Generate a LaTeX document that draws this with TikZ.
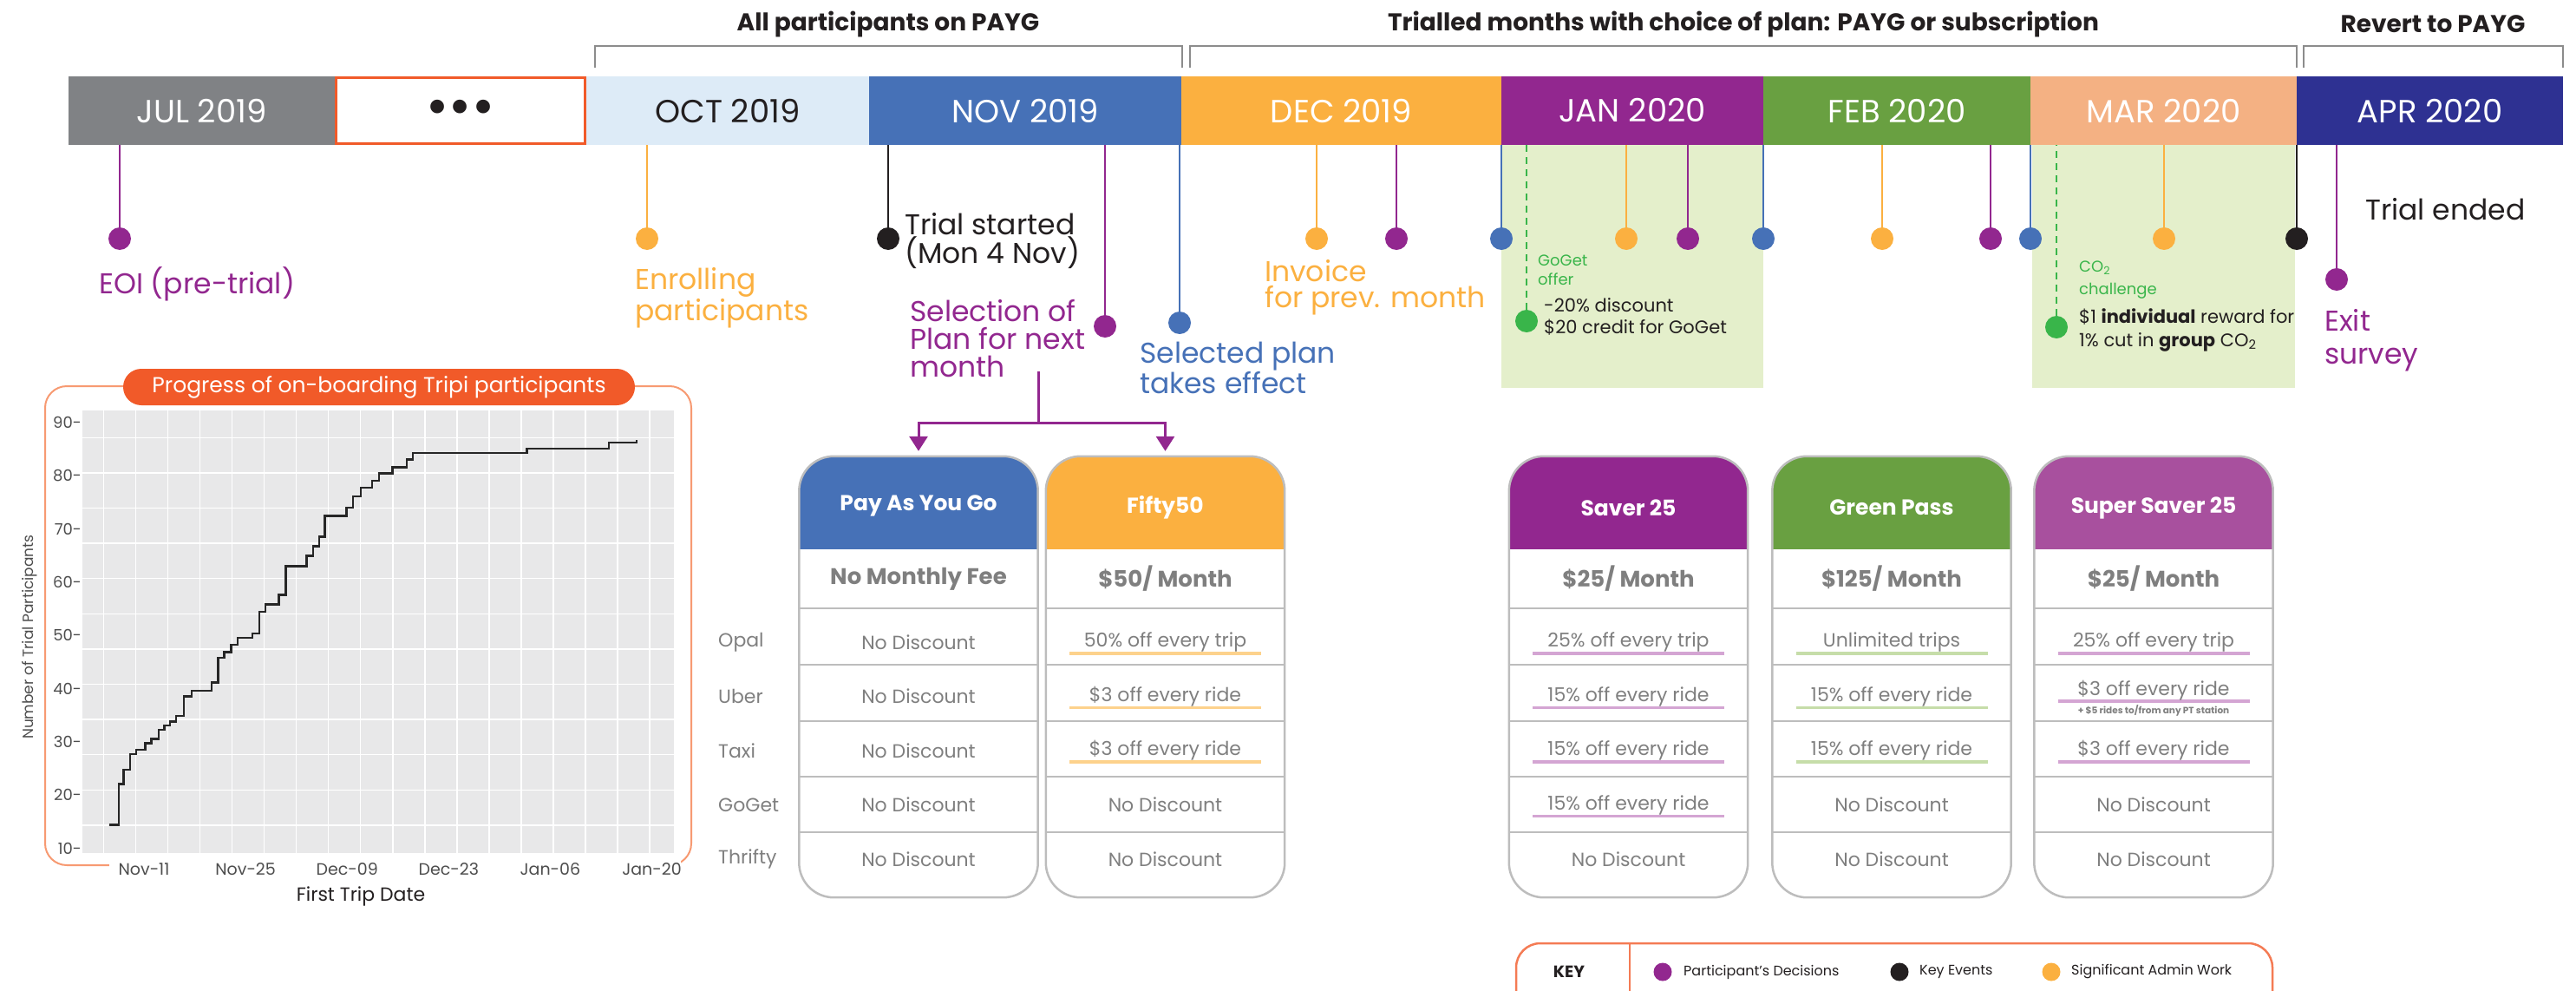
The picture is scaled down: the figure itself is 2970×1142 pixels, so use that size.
\documentclass[tikz,border=0pt]{standalone}
\usepackage{fontspec}
\setmainfont{Poppins}
\usepackage{tikz}
\usetikzlibrary{arrows.meta}
\usetikzlibrary{positioning}

\definecolor{cJul}{HTML}{808285}
\definecolor{cOrange}{HTML}{F15A29}
\definecolor{cOct}{HTML}{DDEBF7}
\definecolor{cNov}{HTML}{4671B7}
\definecolor{cDec}{HTML}{FBB040}
\definecolor{cJan}{HTML}{92278F}
\definecolor{cFeb}{HTML}{69A041}
\definecolor{cMar}{HTML}{F4B183}
\definecolor{cApr}{HTML}{2E3192}
\definecolor{cSuper}{HTML}{A8509E}
\definecolor{cOffer}{HTML}{E4EFCB}
\definecolor{cGreen}{HTML}{39B54A}
\definecolor{cInk}{HTML}{231F20}
\definecolor{cGrey}{HTML}{7F7F7F}
\definecolor{cRule}{HTML}{BDBDBD}
\definecolor{cPanel}{HTML}{E8E8E9}
\definecolor{cBracket}{HTML}{8C8C8C}
\definecolor{cDecPale}{HTML}{FDD28C}
\definecolor{cJanPale}{HTML}{D4A5D3}
\definecolor{cFebPale}{HTML}{C6DDA9}
\definecolor{cFrame}{HTML}{F79A72}
\definecolor{cAxis}{HTML}{4D4D4D}

\newcommand\fsize[2]{\fontsize{#1}{#2}\selectfont}

\tikzset{
  month/.style={rectangle, inner sep=0pt, minimum height=79pt, text=white, font=\fsize{37}{37}},
  dot/.style={circle, inner sep=0pt, minimum size=26pt},
  stem/.style={line width=2.5pt},
  % multi-line labels sit on the baseline of their last line
  event/.style={anchor=base west, align=left, inner sep=0pt, font=\fsize{33}{33}},
  note/.style={anchor=base west, align=left, inner sep=0pt, font=\fsize{18}{22}},
  deal/.style={anchor=base west, align=left, inner sep=0pt, text=cInk, font=\fsize{21}{25}},
  heading/.style={inner sep=0pt, text=cInk, font=\fsize{28}{28}\bfseries},
  bracket/.style={draw=cBracket, line width=2.5pt},
  card/.style={rectangle, inner sep=0pt, minimum width=275pt, minimum height=508pt},
  cardline/.style={draw=cRule, line width=2.5pt, rounded corners=40pt},
  rowline/.style={draw=cRule, line width=2pt},
  head/.style={inner sep=0pt, text=white, font=\fsize{25}{25}\bfseries},
  fee/.style={inner sep=0pt, text=cGrey, font=\fsize{26}{26}\bfseries},
  cell/.style={inner sep=0pt, text=cGrey, font=\fsize{22}{22}},
  rowlab/.style={anchor=west, inner sep=0pt, text=cGrey, font=\fsize{22}{22}},
  uline/.style={line width=3.5pt},
  pline/.style={draw=cJan, line width=3pt},
  gridline/.style={draw=white, line width=1.5pt},
  stepline/.style={draw=black!85, line width=2.5pt},
  keytext/.style={anchor=west, inner sep=0pt, text=cInk, font=\fsize{16}{16}}
}

\begin{document}
\begin{tikzpicture}[x=1pt, y=-1pt]
\useasboundingbox (0,0) rectangle (2970,1142);

% phases of the trial
\node[heading] (hAll) at (1024,28) {All participants on PAYG};
\node[heading] (hTrial) at (2010,28) {Trialled months with choice of plan: PAYG or subscription};
\node[heading] (hRevert) at (2805,28) {Revert to PAYG};
\draw[bracket] (686,78) -- (686,53) -- (1363,53) -- (1363,78);
\draw[bracket] (1372,78) -- (1372,53) -- (2648,53) -- (2648,78);
\draw[bracket] (2656,78) -- (2656,53) -- (2955,53) -- (2955,78);

% months with an incentive
\fill[cOffer] (1731,167) rectangle (2033,447);
\fill[cOffer] (2343,167) rectangle (2646,447);

% month bar
\node[month, fill=cJul, minimum width=307pt] (jul) at (232.5,127.5) {JUL 2019};
\node[month, fill=white, draw=cOrange, line width=3pt, minimum width=287pt, minimum height=76pt,
      text=cInk, font=\fsize{52}{52}\bfseries] (gap) at (531,127.5) {\raisebox{-7pt}{•••}};
\node[month, fill=cOct, text=cInk, minimum width=326pt] (oct) at (839,127.5) {OCT 2019};
\node[month, fill=cNov, minimum width=360pt] (nov) at (1182,127.5) {NOV 2019};
\node[month, fill=cDec, minimum width=369pt] (dec) at (1546.5,127.5) {DEC 2019};
\node[month, fill=cJan, minimum width=302pt] (jan) at (1882,127.5) {JAN 2020};
\node[month, fill=cFeb, minimum width=308pt] (feb) at (2187,127.5) {FEB 2020};
\node[month, fill=cMar, minimum width=307pt] (mar) at (2494.5,127.5) {MAR 2020};
\node[month, fill=cApr, minimum width=307pt] (apr) at (2801.5,127.5) {APR 2020};

% pins hanging from the bar
\foreach \n/\x/\y/\c in {eoi/138/275/cJan, enrol/746/275/cDec, start/1024/275/cInk,
    select/1274/376/cJan, effect/1360/372/cNov, invoice/1518/275/cDec, decDec/1610/275/cJan,
    effDec/1731/275/cNov, admJan/1875/275/cDec, decJan/1946/275/cJan, effJan/2033/275/cNov,
    admFeb/2170/275/cDec, decFeb/2295/275/cJan, effFeb/2341/275/cNov, admMar/2495/275/cDec,
    stop/2648/275/cInk, exit/2694/322/cJan}
{
  \node[dot, fill=\c] (\n) at (\x,\y) {};
  \draw[stem, \c] (\n.center) -- (\n |- jul.south);
}
\node[dot, fill=cGreen] (goget) at (1760,370) {};
\node[dot, fill=cGreen] (co2) at (2371,377) {};
\draw[cGreen, line width=2pt, dash pattern=on 8pt off 6pt] (goget) -- (goget |- jan.south);
\draw[cGreen, line width=2pt, dash pattern=on 8pt off 6pt] (co2) -- (co2 |- mar.south);

\node[event, text=cJan] (eoiT) at (114,338) {EOI (pre-trial)};
\node[event, text=cDec] (enrolT) at (732,369) {Enrolling\\participants};
\node[event, text=cInk] (startT) at (1043,303) {Trial started\\(Mon 4 Nov)};
\node[event, text=cJan, font=\fsize{33}{32}] (selectT) at (1049,434) {Selection of\\Plan for next\\month};
\node[event, text=cNov, font=\fsize{33}{35}] (effectT) at (1314,453) {Selected plan\\takes effect};
\node[event, text=cDec, font=\fsize{33}{30}] (invoiceT) at (1458,354) {Invoice\\for prev. month};
\node[event, text=cInk] (stopT) at (2727,253) {Trial ended};
\node[event, text=cJan, font=\fsize{33}{38}] (exitT) at (2680,419) {Exit\\survey};

\node[note, text=cGreen] (gogetT) at (1773,328) {GoGet\\offer};
\node[deal] (gogetD) at (1780,384) {-20\% discount\\\$20 credit for GoGet};
\node[note, text=cGreen, font=\fsize{18}{26}] (co2T) at (2397,339) {CO\textsubscript{2}\\challenge};
\node[deal, font=\fsize{21}{27}] (co2D) at (2397,399) {\$1 \textbf{individual} reward for\\1\% cut in \textbf{group} CO\textsubscript{2}};

% on-boarding chart
\draw[cFrame, line width=2pt, rounded corners=25pt] (52,445) rectangle (797,997);
\fill[white] (126,988) rectangle (785,1006);
\fill[cPanel] (95,473) rectangle (777,983);
\foreach \k in {0,...,17}
  \draw[gridline] (119.3+37.05*\k,473) -- (119.3+37.05*\k,983);
\foreach \k in {0,...,11}
  \draw[gridline] (95,504.3+40.6*\k) -- (777,504.3+40.6*\k);
\node[rectangle, rounded corners=21pt, fill=cOrange, text=white, inner sep=0pt,
      minimum width=590pt, minimum height=42pt, font=\fsize{25}{25}] (chartT) at (437,446)
      {Progress of on-boarding Tripi participants};
\begin{scope}[shift={(0,420)}, xscale=0.523, yscale=0.408]
\draw[stepline] (240,1300) -| (262,1185) -| (272,1145) -| (287,1100) -| (300,1088)
  -| (320,1070) -| (334,1058) -| (350,1032) -| (362,1020) -| (375,1008) -| (388,993)
  -| (405,937) -| (423,922) -| (467,898) -| (481,828) -| (494,813) -| (510,792)
  -| (524,772) -| (556,760) -| (572,698) -| (585,678) -| (615,651) -| (630,570)
  -| (676,540) -| (690,513) -| (704,487) -| (716,428) -| (764,405) -| (778,373)
  -| (795,348) -| (820,328) -| (836,307) -| (865,290) -| (897,268) -| (910,250)
  -| (1162,238) -| (1342,221) -| (1403,213);
\end{scope}
\foreach \v [evaluate=\v as \y using 486.7+(90-\v)*6.135] in {10,20,...,90}
  \node[anchor=east, inner sep=0pt, text=cAxis, font=\fsize{18}{18}] (y\v) at (94,\y) {\v-};
\foreach \d [count=\i, evaluate=\i as \x using 48.9+117.1*\i] in {Nov-11, Nov-25, Dec-09, Dec-23, Jan-06, Jan-20}
  \node[inner sep=0pt, text=cAxis, font=\fsize{19}{19}] (x\i) at (\x,1002) {\d};
\node[inner sep=0pt, text=cInk, font=\fsize{22}{22}] (xT) at (416,1033) {First Trip Date};
\node[inner sep=0pt, text=cAxis, rotate=90, font=\fsize{17}{17}] (yT) at (34,734) {Number of Trial Participants};

% plan cards
\foreach \n/\x/\c in {payg/1059/cNov, fifty/1343.5/cDec, saver/1877.5/cJan, green/2181/cFeb, super/2483/cSuper}
{
  \node[card] (\n) at (\x,780) {};
  \fill[\c] ([yshift=-107pt]\n.north west) {[rounded corners=40pt] -- (\n.north west) -- (\n.north east)}
    -- ([yshift=-107pt]\n.north east) -- cycle;
  \foreach \y in {175,240,305,369,433}
    \draw[rowline] ([yshift=-\y pt]\n.north west) -- ([yshift=-\y pt]\n.north east);
  \draw[cardline] (\n.north west) rectangle (\n.south east);
}
\node[head] (paygH) at (1059,583) {Pay As You Go};
\node[head] (fiftyH) at (1343.5,585) {Fifty50};
\node[head] (saverH) at (1877.5,585) {Saver 25};
\node[head] (greenH) at (2181,585) {Green Pass};
\node[head] (superH) at (2483,585) {Super Saver 25};
\node[fee] (paygF) at (1059,667) {No Monthly Fee};
\node[fee] (fiftyF) at (1343.5,667) {\$50/ Month};
\node[fee] (saverF) at (1877.5,667) {\$25/ Month};
\node[fee] (greenF) at (2181,667) {\$125/ Month};
\node[fee] (superF) at (2483,667) {\$25/ Month};

% highlight under the discounts
\foreach \x/\c/\m in {1343.5/cDecPale/3, 1877.5/cJanPale/4, 2181/cFebPale/3}
  \foreach \i in {1,...,\m}
    \draw[uline, \c] (\x-110.5,690.5+62.5*\i) -- (\x+110.5,690.5+62.5*\i);
\draw[uline, cJanPale] (2372.5,753) -- (2593.5,753);
\draw[uline, cJanPale] (2372.5,808) -- (2593.5,808);
\draw[uline, cJanPale] (2372.5,878) -- (2593.5,878);

\foreach \t [count=\i, evaluate=\i as \y using 677.5+62.5*\i] in {Opal, Uber, Taxi, GoGet, Thrifty}
  \node[rowlab] (row\i) at (828,\y) {\t};
\foreach \t [count=\i, evaluate=\i as \y using 677.5+62.5*\i] in {No Discount, No Discount, No Discount, No Discount, No Discount}
  \node[cell] (payg-\i) at (1059,\y) {\t};
\foreach \t [count=\i, evaluate=\i as \y using 677.5+62.5*\i] in {50\% off every trip, \$3 off every ride, \$3 off every ride, No Discount, No Discount}
  \node[cell] (fifty-\i) at (1343.5,\y) {\t};
\foreach \t [count=\i, evaluate=\i as \y using 677.5+62.5*\i] in {25\% off every trip, 15\% off every ride, 15\% off every ride, 15\% off every ride, No Discount}
  \node[cell] (saver-\i) at (1877.5,\y) {\t};
\foreach \t [count=\i, evaluate=\i as \y using 677.5+62.5*\i] in {Unlimited trips, 15\% off every ride, 15\% off every ride, No Discount, No Discount}
  \node[cell] (green-\i) at (2181,\y) {\t};
\node[cell] (super-1) at (2483,740) {25\% off every trip};
\node[cell] (super-2) at (2483,796) {\$3 off every ride};
\node[inner sep=0pt, text=cGrey, font=\fsize{10.5}{10.5}\bfseries] (super-2b) at (2483,819) {+ \$5 rides to/from any PT station};
\node[cell] (super-3) at (2483,865) {\$3 off every ride};
\node[cell] (super-4) at (2483,927.5) {No Discount};
\node[cell] (super-5) at (2483,990) {No Discount};

% choosing next month's plan
\coordinate (selFoot) at (1197,428);
\coordinate (split) at (1197,487);
\draw[pline] (selFoot) -- (split);
\draw[pline, -{Triangle[width=21pt,length=17pt]}] (split) -| ([yshift=6pt]payg.north);
\draw[pline, -{Triangle[width=21pt,length=17pt]}] (split) -| ([yshift=6pt]fifty.north);

% key
\draw[cOrange!80, line width=2.5pt, rounded corners=28pt] (1748,1087) rectangle (2620,1175);
\draw[cOrange!80, line width=2.5pt] (1879,1087) -- (1879,1175);
\node[inner sep=0pt, text=cInk, font=\fsize{19}{19}\bfseries] (keyT) at (1809,1120) {KEY};
\node[dot, fill=cJan, minimum size=21pt] (keyDec) at (1917,1120) {};
\node[keytext] (keyDecT) at (1941,1120) {Participant’s Decisions};
\node[dot, fill=cInk, minimum size=21pt] (keyEv) at (2190,1120) {};
\node[keytext] (keyEvT) at (2213,1120) {Key Events};
\node[dot, fill=cDec, minimum size=21pt] (keyAdm) at (2365,1120) {};
\node[keytext] (keyAdmT) at (2388,1120) {Significant Admin Work};
\end{tikzpicture}
\end{document}
